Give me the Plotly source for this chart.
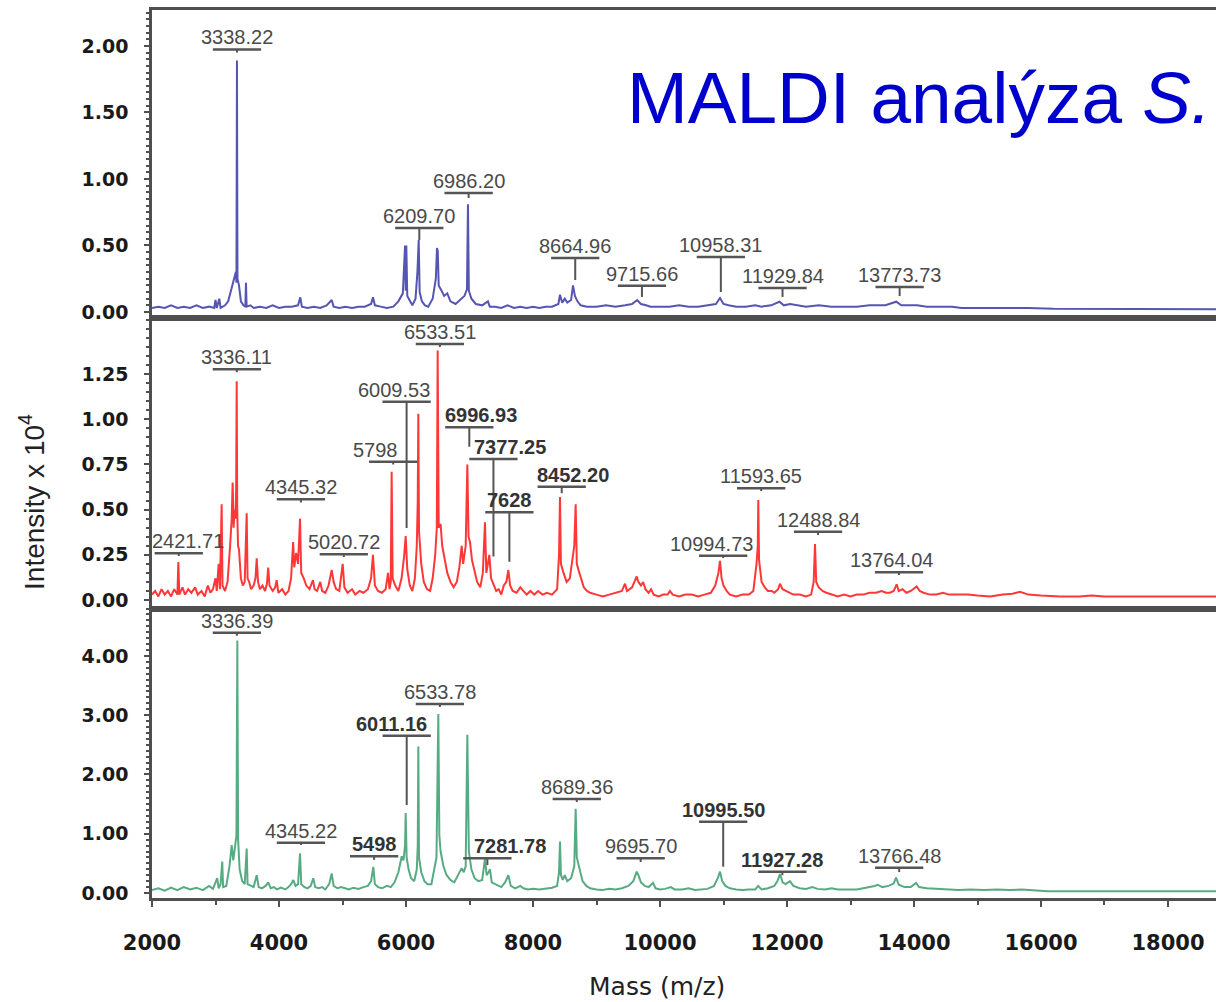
import plotly.graph_objects as go

# ---------------- data ----------------
X_MIN, X_MAX = 2000, 18756

# top spectrum (blue)
BLUE_MASS = [2000, 2100, 2200, 2300, 2400, 2500, 2600, 2700, 2800, 2900, 2980, 3000, 3020, 3060, 3080, 3150,
             3200, 3250, 3290, 3320, 3330, 3338, 3346, 3370, 3400, 3440, 3470, 3480, 3490, 3550, 3600, 3700,
             3800, 3900, 4000, 4100, 4200, 4300, 4335, 4360, 4450, 4550, 4650, 4750, 4830, 4860, 4950, 5050,
             5150, 5250, 5350, 5450, 5480, 5510, 5600, 5700, 5800, 5880, 5950, 5985, 5995, 6005, 6020, 6060,
             6100, 6150, 6180, 6200, 6215, 6250, 6300, 6350, 6420, 6470, 6488, 6500, 6515, 6560, 6600, 6650,
             6700, 6780, 6850, 6920, 6960, 6976, 6990, 7030, 7100, 7200, 7290, 7320, 7400, 7500, 7600, 7700,
             7800, 7900, 8000, 8100, 8200, 8300, 8400, 8425, 8460, 8500, 8540, 8600, 8630, 8660, 8700, 8750,
             8850, 9000, 9150, 9300, 9450, 9560, 9640, 9700, 9780, 9850, 10000, 10150, 10300, 10450, 10600,
             10750, 10880, 10945, 11000, 11080, 11200, 11350, 11500, 11600, 11750, 11880, 11950, 12050, 12150,
             12300, 12500, 12700, 12900, 13100, 13300, 13420, 13550, 13720, 13800, 13900, 14050, 14200, 14400,
             14600, 14750, 15000, 15300, 15600, 15800, 16200, 16600, 17000, 17500, 18000, 18800]
BLUE_INT = [0.03, 0.04, 0.03, 0.05, 0.03, 0.04, 0.03, 0.05, 0.03, 0.04, 0.03, 0.09, 0.03, 0.10, 0.03, 0.05,
            0.08, 0.18, 0.26, 0.30, 0.22, 1.89, 0.25, 0.20, 0.08, 0.05, 0.04, 0.22, 0.04, 0.05, 0.03, 0.04,
            0.03, 0.05, 0.03, 0.04, 0.04, 0.05, 0.11, 0.04, 0.03, 0.04, 0.03, 0.05, 0.09, 0.04, 0.03, 0.04,
            0.03, 0.04, 0.04, 0.06, 0.11, 0.05, 0.04, 0.03, 0.04, 0.08, 0.14, 0.50, 0.16, 0.50, 0.12, 0.08,
            0.05, 0.10, 0.30, 0.54, 0.15, 0.08, 0.05, 0.04, 0.10, 0.25, 0.48, 0.46, 0.20, 0.16, 0.12, 0.14,
            0.08, 0.06, 0.09, 0.12, 0.17, 0.81, 0.16, 0.10, 0.06, 0.05, 0.08, 0.04, 0.04, 0.03, 0.05, 0.03,
            0.04, 0.03, 0.04, 0.03, 0.04, 0.04, 0.06, 0.13, 0.07, 0.10, 0.07, 0.09, 0.20, 0.12, 0.08, 0.05,
            0.04, 0.04, 0.05, 0.04, 0.05, 0.06, 0.09, 0.06, 0.05, 0.04, 0.04, 0.04, 0.05, 0.04, 0.04,
            0.05, 0.06, 0.105, 0.06, 0.05, 0.04, 0.04, 0.05, 0.04, 0.05, 0.077, 0.05, 0.06, 0.05,
            0.04, 0.05, 0.04, 0.04, 0.04, 0.05, 0.05, 0.05, 0.077, 0.05, 0.05, 0.05, 0.04, 0.04,
            0.04, 0.03, 0.03, 0.03, 0.035, 0.03, 0.025, 0.025, 0.02, 0.02, 0.02, 0.02]

# middle spectrum (red)
RED_MASS = [2000, 2050, 2100, 2150, 2200, 2250, 2300, 2350, 2400, 2415, 2430, 2480, 2520, 2570, 2620, 2680,
            2720, 2780, 2830, 2880, 2920, 2960, 3000, 3020, 3050, 3070, 3097, 3110, 3150, 3190, 3230, 3255,
            3270, 3285, 3300, 3315, 3325, 3334, 3342, 3355, 3370, 3400, 3430, 3460, 3491, 3505, 3530, 3560,
            3600, 3630, 3649, 3670, 3700, 3740, 3780, 3810, 3830, 3850, 3900, 3940, 3963, 3990, 4050, 4100,
            4150, 4190, 4223, 4240, 4270, 4300, 4331, 4350, 4390, 4430, 4480, 4535, 4560, 4600, 4650, 4680,
            4730, 4780, 4830, 4860, 4900, 4950, 5003, 5030, 5080, 5150, 5200, 5270, 5330, 5400, 5450, 5480,
            5510, 5560, 5620, 5680, 5717, 5740, 5760, 5774, 5790, 5830, 5880, 5930, 5970, 5995, 6020, 6060,
            6100, 6140, 6170, 6185, 6194, 6205, 6240, 6280, 6330, 6380, 6420, 6460, 6485, 6499, 6515, 6545,
            6570, 6610, 6650, 6700, 6750, 6800, 6840, 6877, 6900, 6940, 6966, 6985, 7008, 7040, 7080, 7120,
            7170, 7210, 7244, 7265, 7290, 7312, 7340, 7380, 7420, 7460, 7500, 7540, 7580, 7612, 7640, 7680,
            7740, 7800, 7850, 7900, 7960, 8020, 8080, 8150, 8220, 8300, 8380, 8410, 8425, 8440, 8480, 8530,
            8580, 8630, 8650, 8672, 8690, 8730, 8760, 8800, 8850, 8900, 9000, 9100, 9200, 9300, 9400, 9449,
            9480, 9560, 9610, 9633, 9660, 9700, 9735, 9770, 9820, 9860, 9900, 9980, 10050, 10120, 10157,
            10200, 10300, 10400, 10500, 10600, 10700, 10800, 10870, 10920, 10945, 10970, 11000, 11050, 11100,
            11200, 11300, 11400, 11470, 11520, 11540, 11548, 11560, 11600, 11650, 11700, 11760, 11800, 11860,
            11890, 11930, 11980, 12050, 12100, 12200, 12300, 12380, 12420, 12441, 12460, 12500, 12560, 12620,
            12700, 12800, 12900, 13000, 13100, 13200, 13300, 13400, 13490, 13560, 13620, 13680, 13727, 13760,
            13820, 13880, 13950, 14042, 14090, 14150, 14250, 14350, 14457, 14550, 14700, 14850, 15000, 15200,
            15400, 15550, 15670, 15800, 16000, 16300, 16600, 16800, 17000, 17400, 17800, 18200, 18800]
RED_INT = [0.03, 0.05, 0.02, 0.06, 0.03, 0.05, 0.02, 0.06, 0.03, 0.21, 0.03, 0.07, 0.03, 0.06, 0.04, 0.07,
           0.03, 0.05, 0.02, 0.08, 0.04, 0.06, 0.12, 0.05, 0.20, 0.06, 0.53, 0.08, 0.05, 0.10, 0.30, 0.45,
           0.65, 0.40, 0.50, 0.45, 0.60, 1.21, 0.50, 0.30, 0.28, 0.12, 0.08, 0.10, 0.48, 0.12, 0.10, 0.06,
           0.08, 0.12, 0.23, 0.10, 0.06, 0.08, 0.05, 0.09, 0.18, 0.08, 0.05, 0.07, 0.11, 0.04, 0.06, 0.03,
           0.05, 0.12, 0.32, 0.18, 0.26, 0.20, 0.45, 0.15, 0.12, 0.08, 0.06, 0.11, 0.06, 0.05, 0.10, 0.05,
           0.04, 0.08, 0.166, 0.10, 0.06, 0.05, 0.20, 0.07, 0.04, 0.06, 0.03, 0.05, 0.04, 0.06, 0.12, 0.25,
           0.08, 0.05, 0.04, 0.06, 0.15, 0.06, 0.10, 0.71, 0.12, 0.08, 0.05, 0.12, 0.24, 0.354, 0.17, 0.08,
           0.05, 0.12, 0.30, 0.55, 1.03, 0.38, 0.20, 0.10, 0.06, 0.05, 0.12, 0.25, 0.40, 1.38, 0.40, 0.42,
           0.30, 0.22, 0.15, 0.10, 0.07, 0.10, 0.18, 0.30, 0.20, 0.30, 0.75, 0.35, 0.32, 0.22, 0.15, 0.10,
           0.07, 0.15, 0.43, 0.15, 0.20, 0.25, 0.12, 0.08, 0.05, 0.06, 0.03, 0.08, 0.10, 0.166, 0.08, 0.05,
           0.04, 0.07, 0.05, 0.03, 0.05, 0.03, 0.05, 0.03, 0.04, 0.03, 0.06, 0.25, 0.57, 0.20, 0.15, 0.10,
           0.12, 0.25, 0.30, 0.53, 0.20, 0.15, 0.12, 0.07, 0.05, 0.04, 0.03, 0.02, 0.03, 0.04, 0.05, 0.09,
           0.05, 0.07, 0.11, 0.13, 0.10, 0.08, 0.10, 0.06, 0.04, 0.06, 0.03, 0.02, 0.03, 0.03, 0.05,
           0.03, 0.02, 0.03, 0.03, 0.02, 0.03, 0.04, 0.08, 0.15, 0.217, 0.12, 0.08, 0.05, 0.03,
           0.02, 0.03, 0.03, 0.05, 0.20, 0.30, 0.553, 0.22, 0.10, 0.07, 0.05, 0.05, 0.04, 0.06,
           0.09, 0.06, 0.05, 0.04, 0.03, 0.03, 0.02, 0.03, 0.10, 0.31, 0.10, 0.07, 0.05, 0.04,
           0.03, 0.02, 0.03, 0.02, 0.03, 0.03, 0.04, 0.04, 0.05, 0.04, 0.04, 0.05, 0.087, 0.05,
           0.06, 0.04, 0.05, 0.075, 0.05, 0.04, 0.03, 0.03, 0.04, 0.03, 0.03, 0.03, 0.025, 0.02,
           0.03, 0.035, 0.045, 0.03, 0.025, 0.02, 0.02, 0.025, 0.02, 0.02, 0.02, 0.02, 0.02]

# bottom spectrum (green)
GREEN_MASS = [2000, 2100, 2200, 2300, 2400, 2500, 2600, 2700, 2800, 2900, 2960, 3000, 3027, 3050, 3080, 3106,
              3120, 3170, 3220, 3255, 3280, 3307, 3330, 3344, 3356, 3380, 3420, 3460, 3491, 3505, 3550, 3600,
              3649, 3680, 3730, 3790, 3830, 3870, 3920, 3970, 4030, 4100, 4150, 4190, 4225, 4260, 4300, 4331,
              4350, 4400, 4450, 4500, 4540, 4570, 4620, 4680, 4730, 4790, 4830, 4860, 4920, 4980, 5040, 5100,
              5170, 5250, 5330, 5400, 5450, 5485, 5510, 5560, 5620, 5700, 5760, 5820, 5880, 5933, 5960, 5985,
              5995, 6010, 6040, 6080, 6130, 6170, 6185, 6194, 6205, 6240, 6290, 6340, 6400, 6450, 6480, 6509,
              6525, 6545, 6590, 6640, 6700, 6760, 6820, 6877, 6910, 6940, 6966, 6990, 7030, 7080, 7140, 7200,
              7244, 7270, 7300, 7323, 7350, 7400, 7450, 7500, 7560, 7612, 7650, 7720, 7800, 7850, 7920, 8000,
              8100, 8200, 8300, 8380, 8410, 8425, 8440, 8470, 8500, 8540, 8600, 8650, 8672, 8690, 8740, 8780,
              8840, 8900, 9000, 9100, 9200, 9300, 9400, 9500, 9580, 9633, 9660, 9700, 9760, 9820, 9890, 9930,
              10000, 10080, 10170, 10230, 10350, 10450, 10550, 10650, 10750, 10850, 10910, 10945, 10980, 11030,
              11100, 11200, 11300, 11400, 11500, 11545, 11600, 11700, 11800, 11850, 11890, 11930, 11980, 12047,
              12100, 12200, 12300, 12400, 12480, 12600, 12700, 12800, 12900, 13000, 13100, 13200, 13300, 13380,
              13430, 13500, 13600, 13680, 13717, 13760, 13850, 13950, 14032, 14080, 14200, 14350, 14500, 14700,
              14900, 15100, 15300, 15500, 15700, 15900, 16100, 16500, 17000, 17500, 18000, 18800]
GREEN_INT = [0.05, 0.08, 0.04, 0.09, 0.05, 0.10, 0.06, 0.09, 0.05, 0.12, 0.07, 0.18, 0.25, 0.08, 0.15, 0.53,
             0.10, 0.12, 0.45, 0.81, 0.55, 0.78, 0.97, 4.26, 0.90, 0.40, 0.20, 0.15, 0.75, 0.15, 0.12, 0.10,
             0.30, 0.10, 0.08, 0.12, 0.18, 0.08, 0.10, 0.06, 0.09, 0.06, 0.10, 0.15, 0.22, 0.12, 0.15, 0.67,
             0.15, 0.10, 0.08, 0.12, 0.25, 0.10, 0.08, 0.10, 0.06, 0.15, 0.33, 0.12, 0.08, 0.10, 0.08, 0.06,
             0.09, 0.07, 0.10, 0.12, 0.20, 0.44, 0.15, 0.10, 0.08, 0.12, 0.10, 0.18, 0.35, 0.62, 0.55, 0.80,
             1.35, 0.60, 0.40, 0.25, 0.20, 0.40, 0.80, 2.47, 0.60, 0.35, 0.20, 0.15, 0.15, 0.40, 0.60, 3.02,
             0.97, 0.70, 0.45, 0.30, 0.22, 0.18, 0.30, 0.42, 0.35, 0.45, 2.67, 0.70, 0.40, 0.25, 0.20, 0.22,
             0.58, 0.30, 0.35, 0.40, 0.18, 0.15, 0.12, 0.10, 0.18, 0.30, 0.12, 0.08, 0.12, 0.08, 0.06, 0.07,
             0.06, 0.07, 0.09, 0.12, 0.35, 0.87, 0.30, 0.22, 0.30, 0.20, 0.25, 0.45, 1.42, 0.60, 0.40, 0.20,
             0.12, 0.08, 0.06, 0.05, 0.07, 0.06, 0.08, 0.12, 0.20, 0.36, 0.30, 0.18, 0.12, 0.10, 0.17, 0.08,
             0.06, 0.07, 0.10, 0.06, 0.06, 0.08, 0.05, 0.06, 0.07, 0.12, 0.25, 0.36, 0.20, 0.12,
             0.08, 0.06, 0.05, 0.06, 0.06, 0.12, 0.06, 0.08, 0.12, 0.20, 0.32, 0.18, 0.15, 0.20,
             0.12, 0.08, 0.07, 0.10, 0.07, 0.06, 0.08, 0.06, 0.06, 0.07, 0.06, 0.08, 0.10, 0.12,
             0.14, 0.10, 0.12, 0.16, 0.26, 0.14, 0.10, 0.10, 0.17, 0.10, 0.08, 0.07, 0.06, 0.05,
             0.06, 0.05, 0.06, 0.05, 0.06, 0.05, 0.03, 0.03, 0.03, 0.03, 0.03, 0.03]

# peak labels: text, height of the label bar, lower end of the connector (intensity x 10^4)
TOP_LABELS = ["3338.22", "6209.70", "6986.20", "8664.96", "9715.66", "10958.31", "11929.84", "13773.73"]
TOP_BAR = [1.974, 0.632, 0.895, 0.406, 0.198, 0.414, 0.180, 0.188]
TOP_END = [1.95, 0.54, 0.857, 0.24, 0.113, 0.15, 0.113, 0.12]

MID_LABELS = ["2421.71", "3336.11", "4345.32", "5020.72", "5798", "6009.53", "6533.51", "6996.93",
              "7377.25", "7628", "8452.20", "10994.73", "11593.65", "12488.84", "13764.04"]
MID_BAR = [0.258, 1.276, 0.557, 0.253, 0.765, 1.097, 1.416, 0.955, 0.78, 0.485, 0.627, 0.245, 0.618, 0.378, 0.153]
MID_END = [0.243, 1.26, 0.54, 0.238, 0.75, 0.398, 1.40, 0.848, 0.24, 0.212, 0.59, 0.232, 0.603, 0.36, 0.138]

BOT_LABELS = ["3336.39", "4345.22", "5498", "6011.16", "6533.78", "7281.78", "8689.36", "9695.70",
              "10995.50", "11927.28", "13766.48"]
BOT_BAR = [4.39, 0.85, 0.62, 2.655, 3.19, 0.586, 1.586, 0.586, 1.203, 0.36, 0.427]
BOT_END = [4.34, 0.81, 0.56, 1.485, 3.14, 0.47, 1.536, 0.523, 0.444, 0.30, 0.354]

TOP_TICKS = [0, 0.5, 1.0, 1.5, 2.0]
MID_TICKS = [0, 0.25, 0.5, 0.75, 1.0, 1.25]
BOT_TICKS = [0, 1, 2, 3, 4]
X_TICKS = [2000, 4000, 6000, 8000, 10000, 12000, 14000, 16000, 18000]
X_TICK_TEXT = ["2000", "4000", "6000", "8000", "10000", "12000", "14000", "16000", "18000"]

TITLE = "MALDI analýza <i>S.</i>"
Y_TITLE = "Intensity x 10<sup>4</sup>"
X_TITLE = "Mass (m/z)"

# ---------------- style ----------------
FRAME = "#4f4f4f"
LABEL_COLOR = "#4a4a4a"
BOLD_LABELS = {"6011.16", "10995.50", "11927.28", "7281.78", "5498", "6996.93", "7377.25", "8452.20", "7628"}
XSHIFT = {"2421.71": 9, "5798": -18, "6009.53": -13, "6011.16": -15, "6996.93": 12, "7377.25": 17,
          "8452.20": 11, "7281.78": 23, "10994.73": -12, "13764.04": -8}
BAR_HALF = 380  # half width of label bar, in mass units

fig = go.Figure()
panels = [
    ("x", "y", BLUE_MASS, BLUE_INT, "rgba(55,55,165,0.85)", TOP_LABELS, TOP_BAR, TOP_END),
    ("x2", "y2", RED_MASS, RED_INT, "rgba(255,20,20,0.85)", MID_LABELS, MID_BAR, MID_END),
    ("x3", "y3", GREEN_MASS, GREEN_INT, "rgba(45,150,100,0.8)", BOT_LABELS, BOT_BAR, BOT_END),
]
annotations = []
shapes = []
for xr, yr, mx, my, col, labs, bars, ends in panels:
    fig.add_trace(go.Scatter(x=mx, y=my, xaxis=xr, yaxis=yr, mode="lines",
                             line=dict(color=col, width=2.0), hoverinfo="skip"))
    for lab, b, e in zip(labs, bars, ends):
        m = float(lab)
        bold = lab in BOLD_LABELS
        annotations.append(dict(
            x=m, y=b, xref=xr, yref=yr, text=f"<b>{lab}</b>" if bold else lab, showarrow=False,
            xanchor="center", yanchor="bottom", xshift=XSHIFT.get(lab, 0), yshift=-1,
            font=dict(family="Liberation Sans, Arial", size=20,
                      color="#333333" if bold else LABEL_COLOR)))
        shapes.append(dict(type="line", xref=xr, yref=yr, x0=m - BAR_HALF, x1=m + BAR_HALF, y0=b, y1=b,
                           line=dict(color="#555555", width=2.5)))
        shapes.append(dict(type="line", xref=xr, yref=yr, x0=m, x1=m, y0=b, y1=e,
                           line=dict(color="#555555", width=2)))

annotations.append(dict(x=0.4445, y=0.902, xref="paper", yref="paper", text=TITLE, showarrow=False,
                        xanchor="left", yanchor="middle",
                        font=dict(family="Liberation Sans, Arial", size=73, color="#0000CC")))
annotations.append(dict(x=-0.1128, y=0.446, xref="paper", yref="paper", text=Y_TITLE, showarrow=False,
                        textangle=-90, xanchor="center", yanchor="middle",
                        font=dict(family="Liberation Sans Narrow, Liberation Sans, Arial", size=28,
                                  color="#222222")))
annotations.append(dict(x=0.4746, y=-0.1, xref="paper", yref="paper", text=X_TITLE, showarrow=False,
                        xanchor="center", yanchor="middle",
                        font=dict(family="DejaVu Sans, Arial", size=25, color="#222222")))

tick_font = dict(family="DejaVu Sans", size=19, color="#1a1a1a", weight="bold")


def xaxis(anchor, labels):
    d = dict(anchor=anchor, domain=[0, 1], range=[X_MIN, X_MAX], showline=True, mirror=True,
             linecolor=FRAME, linewidth=2.5, showgrid=False, zeroline=False)
    if labels:
        d.update(tickmode="array", tickvals=X_TICKS, ticktext=X_TICK_TEXT, ticks="outside", ticklen=6,
                 tickwidth=2, tickcolor=FRAME, showticklabels=True, ticklabelstandoff=18,
                 tickfont=dict(family="DejaVu Sans", size=21, color="#1a1a1a", weight="bold"),
                 minor=dict(tickmode="linear", tick0=1000, dtick=1000, ticks="outside", ticklen=4,
                            tickwidth=2, tickcolor=FRAME))
    else:
        d.update(ticks="", showticklabels=False)
    return d


def yaxis(anchor, dom, rng, tv, minor_step):
    return dict(anchor=anchor, domain=dom, range=rng, tickmode="array", tickvals=tv, tickformat=".2f",
                ticks="outside", ticklen=5, tickwidth=2, tickcolor=FRAME, ticklabelstandoff=12,
                tickfont=tick_font, showline=True, mirror=False, linecolor=FRAME, linewidth=2.5,
                showgrid=False, zeroline=False,
                minor=dict(tickmode="linear", tick0=0, dtick=minor_step, ticks="outside", ticklen=3,
                           tickwidth=1.5, tickcolor=FRAME))


fig.update_layout(
    width=1216, height=1002, margin=dict(l=152, r=0, t=10, b=104),
    paper_bgcolor="white", plot_bgcolor="white", showlegend=False,
    xaxis=xaxis("y", False), xaxis2=xaxis("y2", False), xaxis3=xaxis("y3", True),
    yaxis=yaxis("x", [0.6532, 1.0], [-0.045, 2.27], TOP_TICKS, 0.05),
    yaxis2=yaxis("x2", [0.326, 0.6532], [-0.047, 1.56], MID_TICKS, 0.05),
    yaxis3=yaxis("x3", [0.0, 0.326], [-0.084, 4.80], BOT_TICKS, 0.1),
    annotations=annotations, shapes=shapes,
)

fig.write_html("out.html", config={"displayModeBar": False},
               post_script="document.body.style.margin='0';document.body.style.overflow='hidden';")
